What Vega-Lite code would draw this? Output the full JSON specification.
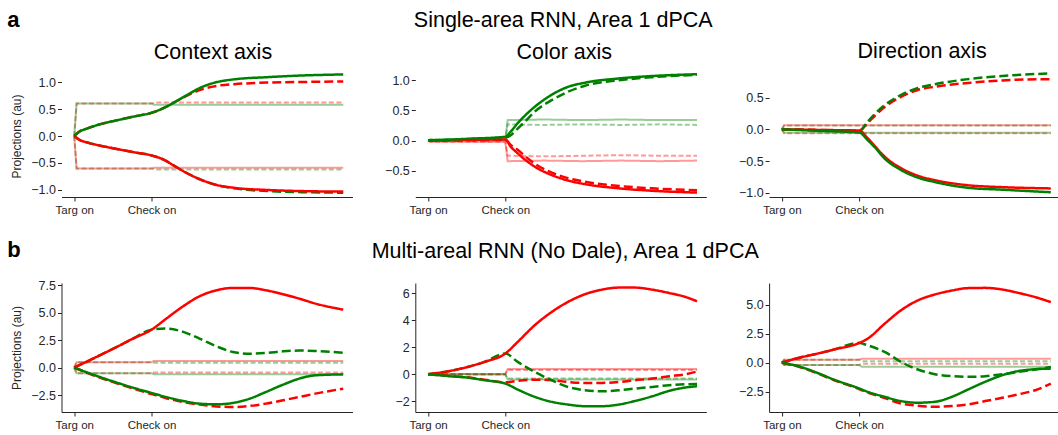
{
"$schema": "https://vega.github.io/schema/vega-lite/v6.json",
"padding": {"left": 6.5, "top": 8, "right": 0, "bottom": 0},
"config": {
  "view": {"stroke": null},
  "font": "Liberation Sans",
  "axis": {"grid": false, "domainColor": "#262626", "tickColor": "#262626", "labelColor": "#262626", "labelFont": "Liberation Sans", "labelFontSize": 12.5, "tickSize": 4, "domainWidth": 1, "tickWidth": 1, "titleFont": "Liberation Sans", "titleFontSize": 12, "titleFontWeight": "normal", "titleColor": "#262626", "titlePadding": 7.5, "labelPadding": 2},
  "axisX": {"labelFontSize": 11.5},
  "title": {"font": "Liberation Sans", "fontSize": 21.5, "fontWeight": "normal", "color": "#000000"}
},
"datasets": {
  "bold": [
    {"p":"a1","t":0,"rd":0,"gd":0,"rs":0,"gs":0},
    {"p":"a1","t":0.06,"rd":0.075,"gd":-0.065,"rs":-0.065,"gs":0.075},
    {"p":"a1","t":0.17,"rd":0.14,"gd":-0.12,"rs":-0.12,"gs":0.14},
    {"p":"a1","t":0.34,"rd":0.22,"gd":-0.18,"rs":-0.18,"gs":0.22},
    {"p":"a1","t":0.55,"rd":0.29,"gd":-0.24,"rs":-0.24,"gs":0.29},
    {"p":"a1","t":0.77,"rd":0.36,"gd":-0.30,"rs":-0.30,"gs":0.36},
    {"p":"a1","t":1.0,"rd":0.43,"gd":-0.36,"rs":-0.36,"gs":0.43},
    {"p":"a1","t":1.16,"rd":0.52,"gd":-0.44,"rs":-0.44,"gs":0.52},
    {"p":"a1","t":1.29,"rd":0.62,"gd":-0.55,"rs":-0.55,"gs":0.62},
    {"p":"a1","t":1.46,"rd":0.75,"gd":-0.69,"rs":-0.69,"gs":0.76},
    {"p":"a1","t":1.64,"rd":0.86,"gd":-0.81,"rs":-0.81,"gs":0.90},
    {"p":"a1","t":1.85,"rd":0.93,"gd":-0.91,"rs":-0.91,"gs":1.0},
    {"p":"a1","t":2.07,"rd":0.96,"gd":-0.97,"rs":-0.96,"gs":1.05},
    {"p":"a1","t":2.5,"rd":0.99,"gd":-1.02,"rs":-1.0,"gs":1.09},
    {"p":"a1","t":2.93,"rd":1.0,"gd":-1.04,"rs":-1.02,"gs":1.12},
    {"p":"a1","t":3.48,"rd":1.01,"gd":-1.05,"rs":-1.03,"gs":1.14},

    {"p":"a2","t":0,"rd":0,"gd":0,"rs":0,"gs":0},
    {"p":"a2","t":0.5,"rd":0.005,"gd":0.025,"rs":0.01,"gs":0.03},
    {"p":"a2","t":1.0,"rd":0.01,"gd":0.05,"rs":0.02,"gs":0.065},
    {"p":"a2","t":1.07,"rd":-0.07,"gd":0.09,"rs":-0.10,"gs":0.15},
    {"p":"a2","t":1.16,"rd":-0.15,"gd":0.20,"rs":-0.21,"gs":0.29},
    {"p":"a2","t":1.25,"rd":-0.25,"gd":0.31,"rs":-0.31,"gs":0.41},
    {"p":"a2","t":1.38,"rd":-0.38,"gd":0.48,"rs":-0.43,"gs":0.56},
    {"p":"a2","t":1.6,"rd":-0.53,"gd":0.67,"rs":-0.57,"gs":0.76},
    {"p":"a2","t":1.81,"rd":-0.62,"gd":0.81,"rs":-0.66,"gs":0.89},
    {"p":"a2","t":2.03,"rd":-0.68,"gd":0.91,"rs":-0.72,"gs":0.96},
    {"p":"a2","t":2.47,"rd":-0.75,"gd":1.0,"rs":-0.79,"gs":1.03},
    {"p":"a2","t":2.9,"rd":-0.79,"gd":1.05,"rs":-0.83,"gs":1.07},
    {"p":"a2","t":3.48,"rd":-0.82,"gd":1.09,"rs":-0.86,"gs":1.10},

    {"p":"a3","t":0,"rd":0,"gd":0,"rs":0,"gs":0},
    {"p":"a3","t":0.5,"rd":-0.01,"gd":-0.015,"rs":-0.01,"gs":-0.025},
    {"p":"a3","t":1.0,"rd":-0.02,"gd":-0.03,"rs":-0.02,"gs":-0.05},
    {"p":"a3","t":1.11,"rd":0.10,"gd":0.12,"rs":-0.14,"gs":-0.17},
    {"p":"a3","t":1.2,"rd":0.21,"gd":0.24,"rs":-0.26,"gs":-0.28},
    {"p":"a3","t":1.33,"rd":0.35,"gd":0.38,"rs":-0.43,"gs":-0.46},
    {"p":"a3","t":1.54,"rd":0.51,"gd":0.54,"rs":-0.61,"gs":-0.64},
    {"p":"a3","t":1.76,"rd":0.62,"gd":0.65,"rs":-0.73,"gs":-0.76},
    {"p":"a3","t":1.98,"rd":0.67,"gd":0.71,"rs":-0.80,"gs":-0.83},
    {"p":"a3","t":2.41,"rd":0.73,"gd":0.79,"rs":-0.88,"gs":-0.92},
    {"p":"a3","t":2.85,"rd":0.77,"gd":0.84,"rs":-0.91,"gs":-0.95},
    {"p":"a3","t":3.48,"rd":0.79,"gd":0.88,"rs":-0.93,"gs":-0.99},

    {"p":"b1","t":0,"rd":0,"gd":0,"rs":0,"gs":0},
    {"p":"b1","t":0.33,"rd":-0.9,"gd":1.12,"rs":1.12,"gs":-0.85},
    {"p":"b1","t":0.55,"rd":-1.42,"gd":1.88,"rs":1.88,"gs":-1.36},
    {"p":"b1","t":0.76,"rd":-1.9,"gd":2.64,"rs":2.64,"gs":-1.82},
    {"p":"b1","t":1.0,"rd":-2.4,"gd":3.45,"rs":3.45,"gs":-2.3},
    {"p":"b1","t":1.19,"rd":-2.78,"gd":3.55,"rs":4.45,"gs":-2.67},
    {"p":"b1","t":1.41,"rd":-3.12,"gd":3.25,"rs":5.58,"gs":-3.03},
    {"p":"b1","t":1.62,"rd":-3.36,"gd":2.64,"rs":6.48,"gs":-3.27},
    {"p":"b1","t":1.84,"rd":-3.52,"gd":1.94,"rs":7.03,"gs":-3.33},
    {"p":"b1","t":2.05,"rd":-3.58,"gd":1.42,"rs":7.24,"gs":-3.21},
    {"p":"b1","t":2.27,"rd":-3.48,"gd":1.27,"rs":7.24,"gs":-2.82},
    {"p":"b1","t":2.48,"rd":-3.27,"gd":1.33,"rs":7.03,"gs":-2.21},
    {"p":"b1","t":2.7,"rd":-2.97,"gd":1.48,"rs":6.67,"gs":-1.55},
    {"p":"b1","t":2.91,"rd":-2.67,"gd":1.55,"rs":6.27,"gs":-1.0},
    {"p":"b1","t":3.12,"rd":-2.36,"gd":1.52,"rs":5.82,"gs":-0.7},
    {"p":"b1","t":3.48,"rd":-1.91,"gd":1.36,"rs":5.27,"gs":-0.61},

    {"p":"b2","t":0,"rd":0,"gd":0,"rs":0,"gs":0},
    {"p":"b2","t":0.29,"rd":-0.13,"gd":0.25,"rs":0.25,"gs":-0.15},
    {"p":"b2","t":0.51,"rd":-0.23,"gd":0.54,"rs":0.54,"gs":-0.25},
    {"p":"b2","t":0.73,"rd":-0.4,"gd":0.91,"rs":0.91,"gs":-0.44},
    {"p":"b2","t":1.0,"rd":-0.6,"gd":1.53,"rs":1.53,"gs":-0.69},
    {"p":"b2","t":1.16,"rd":-0.48,"gd":0.91,"rs":2.39,"gs":-1.13},
    {"p":"b2","t":1.38,"rd":-0.4,"gd":0.17,"rs":3.62,"gs":-1.67},
    {"p":"b2","t":1.6,"rd":-0.44,"gd":-0.44,"rs":4.6,"gs":-2.04},
    {"p":"b2","t":1.81,"rd":-0.57,"gd":-0.94,"rs":5.34,"gs":-2.24},
    {"p":"b2","t":2.03,"rd":-0.64,"gd":-1.18,"rs":5.91,"gs":-2.36},
    {"p":"b2","t":2.25,"rd":-0.64,"gd":-1.26,"rs":6.25,"gs":-2.36},
    {"p":"b2","t":2.47,"rd":-0.57,"gd":-1.18,"rs":6.4,"gs":-2.24},
    {"p":"b2","t":2.68,"rd":-0.44,"gd":-1.06,"rs":6.4,"gs":-1.97},
    {"p":"b2","t":2.9,"rd":-0.32,"gd":-0.94,"rs":6.25,"gs":-1.63},
    {"p":"b2","t":3.12,"rd":-0.15,"gd":-0.81,"rs":6.0,"gs":-1.23},
    {"p":"b2","t":3.33,"rd":0.0,"gd":-0.74,"rs":5.71,"gs":-0.98},
    {"p":"b2","t":3.48,"rd":0.2,"gd":-0.72,"rs":5.39,"gs":-0.89},

    {"p":"b3","t":0,"rd":0,"gd":0,"rs":0,"gs":0},
    {"p":"b3","t":0.24,"rd":-0.4,"gd":0.44,"rs":0.44,"gs":-0.37},
    {"p":"b3","t":0.46,"rd":-0.92,"gd":0.77,"rs":0.77,"gs":-0.89},
    {"p":"b3","t":0.67,"rd":-1.5,"gd":1.12,"rs":1.12,"gs":-1.46},
    {"p":"b3","t":1.0,"rd":-2.28,"gd":1.69,"rs":1.69,"gs":-2.23},
    {"p":"b3","t":1.11,"rd":-2.58,"gd":1.49,"rs":2.06,"gs":-2.52},
    {"p":"b3","t":1.33,"rd":-3.05,"gd":0.92,"rs":3.35,"gs":-2.95},
    {"p":"b3","t":1.54,"rd":-3.52,"gd":0.06,"rs":4.5,"gs":-3.32},
    {"p":"b3","t":1.76,"rd":-3.72,"gd":-0.6,"rs":5.36,"gs":-3.46},
    {"p":"b3","t":1.98,"rd":-3.81,"gd":-1.0,"rs":5.87,"gs":-3.38},
    {"p":"b3","t":2.2,"rd":-3.75,"gd":-1.17,"rs":6.21,"gs":-2.95},
    {"p":"b3","t":2.41,"rd":-3.61,"gd":-1.23,"rs":6.42,"gs":-2.32},
    {"p":"b3","t":2.63,"rd":-3.32,"gd":-1.17,"rs":6.44,"gs":-1.66},
    {"p":"b3","t":2.85,"rd":-3.04,"gd":-1.0,"rs":6.3,"gs":-1.09},
    {"p":"b3","t":3.07,"rd":-2.72,"gd":-0.8,"rs":5.99,"gs":-0.72},
    {"p":"b3","t":3.28,"rd":-2.38,"gd":-0.6,"rs":5.64,"gs":-0.57},
    {"p":"b3","t":3.48,"rd":-1.81,"gd":-0.37,"rs":5.21,"gs":-0.52}
  ],
  "faint": [
    {"p":"a1","t":0,"frd":0,"fgd":0,"frs":0,"fgs":0},
    {"p":"a1","t":0.03,"frd":0.6,"fgd":-0.6,"frs":-0.6,"fgs":0.6},
    {"p":"a1","t":1.0,"frd":0.6,"fgd":-0.6,"frs":-0.6,"fgs":0.6},
    {"p":"a1","t":1.03,"frd":0.62,"fgd":-0.62,"frs":-0.59,"fgs":0.58},
    {"p":"a1","t":3.48,"frd":0.62,"fgd":-0.62,"frs":-0.59,"fgs":0.58},

    {"p":"a2","t":0,"frd":0,"fgd":0,"frs":0,"fgs":0},
    {"p":"a2","t":0.03,"frd":-0.02,"fgd":0.02,"frs":-0.02,"fgs":0.02},
    {"p":"a2","t":1.0,"frd":-0.02,"fgd":0.02,"frs":-0.02,"fgs":0.02},
    {"p":"a2","t":1.03,"frd":-0.25,"fgd":0.27,"frs":-0.34,"fgs":0.34},
    {"p":"a2","t":1.5,"frd":-0.26,"fgd":0.26,"frs":-0.33,"fgs":0.35},
    {"p":"a2","t":2.0,"frd":-0.25,"fgd":0.27,"frs":-0.34,"fgs":0.34},
    {"p":"a2","t":2.5,"frd":-0.24,"fgd":0.26,"frs":-0.33,"fgs":0.35},
    {"p":"a2","t":3.0,"frd":-0.25,"fgd":0.27,"frs":-0.34,"fgs":0.34},
    {"p":"a2","t":3.48,"frd":-0.25,"fgd":0.26,"frs":-0.33,"fgs":0.34},

    {"p":"a3","t":0,"frd":0,"fgd":0,"frs":0,"fgs":0},
    {"p":"a3","t":0.03,"frd":-0.06,"fgd":0.06,"frs":0.065,"fgs":-0.055},
    {"p":"a3","t":3.48,"frd":-0.06,"fgd":0.06,"frs":0.065,"fgs":-0.055},

    {"p":"b1","t":0,"frd":0,"fgd":0,"frs":0,"fgs":0},
    {"p":"b1","t":0.03,"frd":-0.5,"fgd":0.5,"frs":0.5,"fgs":-0.5},
    {"p":"b1","t":1.0,"frd":-0.5,"fgd":0.5,"frs":0.5,"fgs":-0.5},
    {"p":"b1","t":1.03,"frd":-0.45,"fgd":0.45,"frs":0.6,"fgs":-0.6},
    {"p":"b1","t":3.48,"frd":-0.45,"fgd":0.45,"frs":0.6,"fgs":-0.6},

    {"p":"b2","t":0,"frd":0,"fgd":0,"frs":0,"fgs":0},
    {"p":"b2","t":1.0,"frd":0.02,"fgd":-0.02,"frs":0.02,"fgs":-0.02},
    {"p":"b2","t":1.03,"frd":0.32,"fgd":-0.32,"frs":0.38,"fgs":-0.38},
    {"p":"b2","t":3.48,"frd":0.32,"fgd":-0.32,"frs":0.38,"fgs":-0.38},

    {"p":"b3","t":0,"frd":0,"fgd":0,"frs":0,"fgs":0},
    {"p":"b3","t":0.03,"frd":-0.2,"fgd":0.25,"frs":0.25,"fgs":-0.2},
    {"p":"b3","t":1.0,"frd":-0.2,"fgd":0.25,"frs":0.25,"fgs":-0.2},
    {"p":"b3","t":1.03,"frd":-0.1,"fgd":0.12,"frs":0.32,"fgs":-0.35},
    {"p":"b3","t":3.48,"frd":-0.1,"fgd":0.12,"frs":0.32,"fgs":-0.35}
  ]
},
"spacing": 23,
"vconcat": [
  {
    "title": {"text": "a", "anchor": "start", "fontWeight": "bold", "fontSize": 22, "offset": -21.6, "dx": -3},
    "vconcat": [
      {
        "title": {"text": "Single-area RNN, Area 1 dPCA", "anchor": "middle", "frame": "bounds", "offset": 9.5, "dx": 28},
        "bounds": "flush",
        "spacing": 62.8,
        "hconcat": [
          {
            "width": 291, "height": 122,
            "title": {"text": "Context axis", "anchor": "middle", "frame": "group", "dx": 6, "offset": 6},
            "encoding": {
              "x": {"field": "t", "type": "quantitative", "scale": {"domain": [-0.165, 3.6], "nice": false, "zero": false}, "axis": {"values": [0, 1], "labelExpr": "datum.value == 0 ? 'Targ on' : 'Check on'", "title": null, "labelPadding": 3}},
              "y": {"field": "v", "type": "quantitative", "scale": {"domain": [-1.13, 1.13], "nice": false, "zero": false}, "axis": {"values": [-1, -0.5, 0, 0.5, 1], "format": ".1f", "title": "Projections (au)", "domain": false}}
            },
            "layer": [
              {"data": {"name": "faint"}, "transform": [{"filter": "datum.p == 'a1'"}, {"fold": ["frd", "fgd", "frs", "fgs"], "as": ["s", "v"]}],
               "mark": {"type": "line", "strokeWidth": 2, "opacity": 0.4},
               "encoding": {
                 "color": {"field": "s", "type": "nominal", "scale": {"domain": ["frd","fgd","frs","fgs","rd","gd","rs","gs"], "range": ["#ff0000","#008000","#ff0000","#008000","#ff0000","#008000","#ff0000","#008000"]}, "legend": null},
                 "strokeDash": {"field": "s", "type": "nominal", "scale": {"domain": ["frd","fgd","frs","fgs","rd","gd","rs","gs"], "range": [[5,2.5],[5,2.5],[1,0],[1,0],[9,4],[9,4],[1,0],[1,0]]}, "legend": null}}},
              {"data": {"name": "bold"}, "transform": [{"filter": "datum.p == 'a1'"}, {"fold": ["rd", "gd", "rs", "gs"], "as": ["s", "v"]}],
               "mark": {"type": "line", "strokeWidth": 2.5, "interpolate": "monotone"},
               "encoding": {
                 "color": {"field": "s", "type": "nominal", "scale": {"domain": ["frd","fgd","frs","fgs","rd","gd","rs","gs"], "range": ["#ff0000","#008000","#ff0000","#008000","#ff0000","#008000","#ff0000","#008000"]}, "legend": null},
                 "strokeDash": {"field": "s", "type": "nominal", "scale": {"domain": ["frd","fgd","frs","fgs","rd","gd","rs","gs"], "range": [[5,2.5],[5,2.5],[1,0],[1,0],[9,4],[9,4],[1,0],[1,0]]}, "legend": null}}},
              {"data": {"values": [{}]}, "mark": {"type": "rule", "color": "#262626", "strokeWidth": 1},
               "encoding": {"x": {"datum": -0.165, "type": "quantitative"}, "y": {"datum": -1.01, "type": "quantitative"}, "y2": {"datum": 1.03}}}
            ]
          },
          {
            "width": 291, "height": 122,
            "title": {"text": "Color axis", "anchor": "middle", "frame": "group", "dx": 3.5, "offset": 6},
            "encoding": {
              "x": {"field": "t", "type": "quantitative", "scale": {"domain": [-0.165, 3.6], "nice": false, "zero": false}, "axis": {"values": [0, 1], "labelExpr": "datum.value == 0 ? 'Targ on' : 'Check on'", "title": null, "labelPadding": 3}},
              "y": {"field": "v", "type": "quantitative", "scale": {"domain": [-0.933, 1.087], "nice": false, "zero": false}, "axis": {"values": [-0.5, 0, 0.5, 1], "format": ".1f", "title": null, "domain": false}}
            },
            "layer": [
              {"data": {"name": "faint"}, "transform": [{"filter": "datum.p == 'a2'"}, {"fold": ["frd", "fgd", "frs", "fgs"], "as": ["s", "v"]}],
               "mark": {"type": "line", "strokeWidth": 2, "opacity": 0.4},
               "encoding": {
                 "color": {"field": "s", "type": "nominal", "scale": {"domain": ["frd","fgd","frs","fgs","rd","gd","rs","gs"], "range": ["#ff0000","#008000","#ff0000","#008000","#ff0000","#008000","#ff0000","#008000"]}, "legend": null},
                 "strokeDash": {"field": "s", "type": "nominal", "scale": {"domain": ["frd","fgd","frs","fgs","rd","gd","rs","gs"], "range": [[5,2.5],[5,2.5],[1,0],[1,0],[9,4],[9,4],[1,0],[1,0]]}, "legend": null}}},
              {"data": {"name": "bold"}, "transform": [{"filter": "datum.p == 'a2'"}, {"fold": ["rd", "gd", "rs", "gs"], "as": ["s", "v"]}],
               "mark": {"type": "line", "strokeWidth": 2.5, "interpolate": "monotone"},
               "encoding": {
                 "color": {"field": "s", "type": "nominal", "scale": {"domain": ["frd","fgd","frs","fgs","rd","gd","rs","gs"], "range": ["#ff0000","#008000","#ff0000","#008000","#ff0000","#008000","#ff0000","#008000"]}, "legend": null},
                 "strokeDash": {"field": "s", "type": "nominal", "scale": {"domain": ["frd","fgd","frs","fgs","rd","gd","rs","gs"], "range": [[5,2.5],[5,2.5],[1,0],[1,0],[9,4],[9,4],[1,0],[1,0]]}, "legend": null}}},
              {"data": {"values": [{}]}, "mark": {"type": "rule", "color": "#262626", "strokeWidth": 1},
               "encoding": {"x": {"datum": -0.165, "type": "quantitative"}, "y": {"datum": -0.762, "type": "quantitative"}, "y2": {"datum": 1.016}}}
            ]
          },
          {
            "width": 291, "height": 122,
            "title": {"text": "Direction axis", "anchor": "middle", "frame": "group", "dx": 7.5, "offset": 6},
            "encoding": {
              "x": {"field": "t", "type": "quantitative", "scale": {"domain": [-0.165, 3.6], "nice": false, "zero": false}, "axis": {"values": [0, 1], "labelExpr": "datum.value == 0 ? 'Targ on' : 'Check on'", "title": null, "labelPadding": 3}},
              "y": {"field": "v", "type": "quantitative", "scale": {"domain": [-1.065, 0.855], "nice": false, "zero": false}, "axis": {"values": [-1, -0.5, 0, 0.5], "format": ".1f", "title": null, "domain": false}}
            },
            "layer": [
              {"data": {"name": "faint"}, "transform": [{"filter": "datum.p == 'a3'"}, {"fold": ["frd", "fgd", "frs", "fgs"], "as": ["s", "v"]}],
               "mark": {"type": "line", "strokeWidth": 2, "opacity": 0.4},
               "encoding": {
                 "color": {"field": "s", "type": "nominal", "scale": {"domain": ["frd","fgd","frs","fgs","rd","gd","rs","gs"], "range": ["#ff0000","#008000","#ff0000","#008000","#ff0000","#008000","#ff0000","#008000"]}, "legend": null},
                 "strokeDash": {"field": "s", "type": "nominal", "scale": {"domain": ["frd","fgd","frs","fgs","rd","gd","rs","gs"], "range": [[5,2.5],[5,2.5],[1,0],[1,0],[9,4],[9,4],[1,0],[1,0]]}, "legend": null}}},
              {"data": {"name": "bold"}, "transform": [{"filter": "datum.p == 'a3'"}, {"fold": ["rd", "gd", "rs", "gs"], "as": ["s", "v"]}],
               "mark": {"type": "line", "strokeWidth": 2.5, "interpolate": "monotone"},
               "encoding": {
                 "color": {"field": "s", "type": "nominal", "scale": {"domain": ["frd","fgd","frs","fgs","rd","gd","rs","gs"], "range": ["#ff0000","#008000","#ff0000","#008000","#ff0000","#008000","#ff0000","#008000"]}, "legend": null},
                 "strokeDash": {"field": "s", "type": "nominal", "scale": {"domain": ["frd","fgd","frs","fgs","rd","gd","rs","gs"], "range": [[5,2.5],[5,2.5],[1,0],[1,0],[9,4],[9,4],[1,0],[1,0]]}, "legend": null}}},
              {"data": {"values": [{}]}, "mark": {"type": "rule", "color": "#262626", "strokeWidth": 1},
               "encoding": {"x": {"datum": -0.165, "type": "quantitative"}, "y": {"datum": -0.997, "type": "quantitative"}, "y2": {"datum": 0.855}}}
            ]
          }
        ]
      }
    ]
  },
  {
    "title": {"text": "b", "anchor": "start", "fontWeight": "bold", "fontSize": 22, "offset": -21.6, "dx": -3},
    "vconcat": [
      {
        "title": {"text": "Multi-areal RNN (No Dale), Area 1 dPCA", "anchor": "middle", "frame": "bounds", "offset": 16.8, "dx": 30},
        "bounds": "flush",
        "spacing": 62.8,
        "hconcat": [
          {
            "width": 291, "height": 129,
            "encoding": {
              "x": {"field": "t", "type": "quantitative", "scale": {"domain": [-0.165, 3.6], "nice": false, "zero": false}, "axis": {"values": [0, 1], "labelExpr": "datum.value == 0 ? 'Targ on' : 'Check on'", "title": null, "labelPadding": 3}},
              "y": {"field": "v", "type": "quantitative", "scale": {"domain": [-4.03, 7.69], "nice": false, "zero": false}, "axis": {"values": [-2.5, 0, 2.5, 5, 7.5], "format": ".1f", "title": "Projections (au)"}}
            },
            "layer": [
              {"data": {"name": "faint"}, "transform": [{"filter": "datum.p == 'b1'"}, {"fold": ["frd", "fgd", "frs", "fgs"], "as": ["s", "v"]}],
               "mark": {"type": "line", "strokeWidth": 2, "opacity": 0.4},
               "encoding": {
                 "color": {"field": "s", "type": "nominal", "scale": {"domain": ["frd","fgd","frs","fgs","rd","gd","rs","gs"], "range": ["#ff0000","#008000","#ff0000","#008000","#ff0000","#008000","#ff0000","#008000"]}, "legend": null},
                 "strokeDash": {"field": "s", "type": "nominal", "scale": {"domain": ["frd","fgd","frs","fgs","rd","gd","rs","gs"], "range": [[5,2.5],[5,2.5],[1,0],[1,0],[9,4],[9,4],[1,0],[1,0]]}, "legend": null}}},
              {"data": {"name": "bold"}, "transform": [{"filter": "datum.p == 'b1'"}, {"fold": ["rd", "gd", "rs", "gs"], "as": ["s", "v"]}],
               "mark": {"type": "line", "strokeWidth": 2.5, "interpolate": "monotone"},
               "encoding": {
                 "color": {"field": "s", "type": "nominal", "scale": {"domain": ["frd","fgd","frs","fgs","rd","gd","rs","gs"], "range": ["#ff0000","#008000","#ff0000","#008000","#ff0000","#008000","#ff0000","#008000"]}, "legend": null},
                 "strokeDash": {"field": "s", "type": "nominal", "scale": {"domain": ["frd","fgd","frs","fgs","rd","gd","rs","gs"], "range": [[5,2.5],[5,2.5],[1,0],[1,0],[9,4],[9,4],[1,0],[1,0]]}, "legend": null}}}
            ]
          },
          {
            "width": 291, "height": 129,
            "encoding": {
              "x": {"field": "t", "type": "quantitative", "scale": {"domain": [-0.165, 3.6], "nice": false, "zero": false}, "axis": {"values": [0, 1], "labelExpr": "datum.value == 0 ? 'Targ on' : 'Check on'", "title": null, "labelPadding": 3}},
              "y": {"field": "v", "type": "quantitative", "scale": {"domain": [-2.79, 6.74], "nice": false, "zero": false}, "axis": {"values": [-2, 0, 2, 4, 6], "format": "d", "title": null}}
            },
            "layer": [
              {"data": {"name": "faint"}, "transform": [{"filter": "datum.p == 'b2'"}, {"fold": ["frd", "fgd", "frs", "fgs"], "as": ["s", "v"]}],
               "mark": {"type": "line", "strokeWidth": 2, "opacity": 0.4},
               "encoding": {
                 "color": {"field": "s", "type": "nominal", "scale": {"domain": ["frd","fgd","frs","fgs","rd","gd","rs","gs"], "range": ["#ff0000","#008000","#ff0000","#008000","#ff0000","#008000","#ff0000","#008000"]}, "legend": null},
                 "strokeDash": {"field": "s", "type": "nominal", "scale": {"domain": ["frd","fgd","frs","fgs","rd","gd","rs","gs"], "range": [[5,2.5],[5,2.5],[1,0],[1,0],[9,4],[9,4],[1,0],[1,0]]}, "legend": null}}},
              {"data": {"name": "bold"}, "transform": [{"filter": "datum.p == 'b2'"}, {"fold": ["rd", "gd", "rs", "gs"], "as": ["s", "v"]}],
               "mark": {"type": "line", "strokeWidth": 2.5, "interpolate": "monotone"},
               "encoding": {
                 "color": {"field": "s", "type": "nominal", "scale": {"domain": ["frd","fgd","frs","fgs","rd","gd","rs","gs"], "range": ["#ff0000","#008000","#ff0000","#008000","#ff0000","#008000","#ff0000","#008000"]}, "legend": null},
                 "strokeDash": {"field": "s", "type": "nominal", "scale": {"domain": ["frd","fgd","frs","fgs","rd","gd","rs","gs"], "range": [[5,2.5],[5,2.5],[1,0],[1,0],[9,4],[9,4],[1,0],[1,0]]}, "legend": null}}}
            ]
          },
          {
            "width": 291, "height": 129,
            "encoding": {
              "x": {"field": "t", "type": "quantitative", "scale": {"domain": [-0.165, 3.6], "nice": false, "zero": false}, "axis": {"values": [0, 1], "labelExpr": "datum.value == 0 ? 'Targ on' : 'Check on'", "title": null, "labelPadding": 3}},
              "y": {"field": "v", "type": "quantitative", "scale": {"domain": [-4.26, 6.86], "nice": false, "zero": false}, "axis": {"values": [-2.5, 0, 2.5, 5], "format": ".1f", "title": null}}
            },
            "layer": [
              {"data": {"name": "faint"}, "transform": [{"filter": "datum.p == 'b3'"}, {"fold": ["frd", "fgd", "frs", "fgs"], "as": ["s", "v"]}],
               "mark": {"type": "line", "strokeWidth": 2, "opacity": 0.4},
               "encoding": {
                 "color": {"field": "s", "type": "nominal", "scale": {"domain": ["frd","fgd","frs","fgs","rd","gd","rs","gs"], "range": ["#ff0000","#008000","#ff0000","#008000","#ff0000","#008000","#ff0000","#008000"]}, "legend": null},
                 "strokeDash": {"field": "s", "type": "nominal", "scale": {"domain": ["frd","fgd","frs","fgs","rd","gd","rs","gs"], "range": [[5,2.5],[5,2.5],[1,0],[1,0],[9,4],[9,4],[1,0],[1,0]]}, "legend": null}}},
              {"data": {"name": "bold"}, "transform": [{"filter": "datum.p == 'b3'"}, {"fold": ["rd", "gd", "rs", "gs"], "as": ["s", "v"]}],
               "mark": {"type": "line", "strokeWidth": 2.5, "interpolate": "monotone"},
               "encoding": {
                 "color": {"field": "s", "type": "nominal", "scale": {"domain": ["frd","fgd","frs","fgs","rd","gd","rs","gs"], "range": ["#ff0000","#008000","#ff0000","#008000","#ff0000","#008000","#ff0000","#008000"]}, "legend": null},
                 "strokeDash": {"field": "s", "type": "nominal", "scale": {"domain": ["frd","fgd","frs","fgs","rd","gd","rs","gs"], "range": [[5,2.5],[5,2.5],[1,0],[1,0],[9,4],[9,4],[1,0],[1,0]]}, "legend": null}}}
            ]
          }
        ]
      }
    ]
  }
]
}
